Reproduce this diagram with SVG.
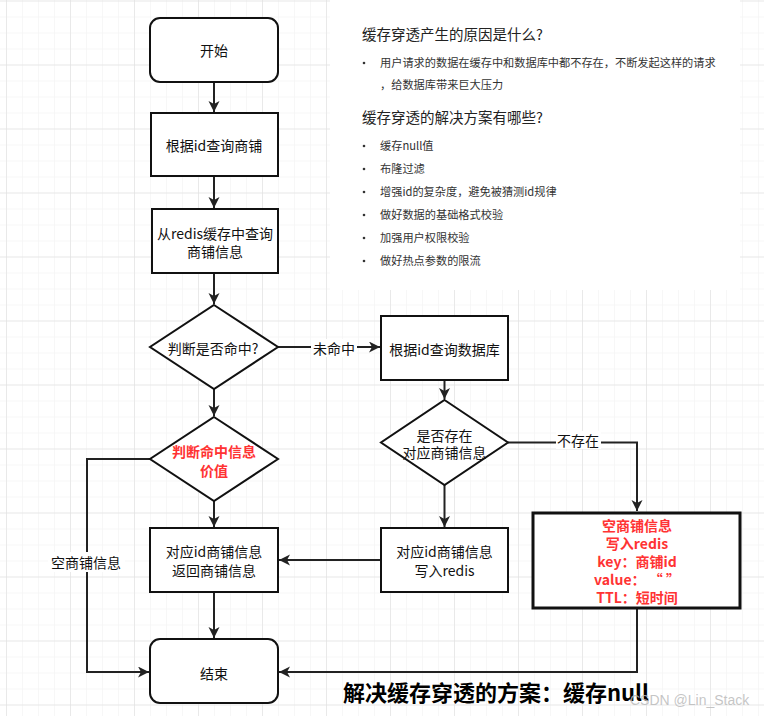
<svg xmlns="http://www.w3.org/2000/svg" width="764" height="716" viewBox="0 0 764 716">
<defs>
<pattern id="minor" x="6" y="0.5" width="16" height="16" patternUnits="userSpaceOnUse">
<path d="M0,0 H16 M0,0 V16" fill="none" stroke="#f0f0f0" stroke-width="1"/>
</pattern>
<pattern id="major" x="6" y="0.5" width="64" height="64" patternUnits="userSpaceOnUse">
<path d="M0,0 H64 M0,0 V64" fill="none" stroke="#dcdcdc" stroke-width="1"/>
</pattern>
<marker id="arr" markerUnits="userSpaceOnUse" markerWidth="12" markerHeight="12" refX="11" refY="5.5" orient="auto">
<path d="M0,0 L11,5.5 L0,11 L3,5.5 z" fill="#222"/>
</marker>
</defs>
<style>
.box{fill:#fff;stroke:#111;stroke-width:2}
.t{font-family:"Noto Sans CJK SC","Microsoft YaHei",sans-serif;font-size:14px;fill:#111;text-anchor:middle;dominant-baseline:central}
.r{fill:#ff3333;font-weight:bold}
.c{fill:none;stroke:#222;stroke-width:2}
.a{marker-end:url(#arr)}
.lb{fill:#fff}
.p{font-family:"Noto Sans CJK SC",sans-serif;fill:#222}
.h{font-size:14.5px}
.b{font-size:11.2px;fill:#333}
</style>
<rect width="764" height="716" fill="#fff"/>
<rect width="764" height="716" fill="url(#minor)"/>
<rect width="764" height="716" fill="url(#major)"/>

<g id="panel">
<rect x="330" y="0" width="410" height="290" fill="#fff"/>
<text class="p h" x="362" y="40">缓存穿透产生的原因是什么?</text>
<circle cx="364" cy="63" r="1.3" fill="#333"/>
<text class="p b" x="380" y="67">用户请求的数据在缓存中和数据库中都不存在，不断发起这样的请求</text>
<text class="p b" x="380" y="89">，给数据库带来巨大压力</text>
<text class="p h" x="362" y="123">缓存穿透的解决方案有哪些?</text>
<circle cx="364" cy="146" r="1.3" fill="#333"/>
<text class="p b" x="380" y="150">缓存null值</text>
<circle cx="364" cy="169" r="1.3" fill="#333"/>
<text class="p b" x="380" y="173">布隆过滤</text>
<circle cx="364" cy="192" r="1.3" fill="#333"/>
<text class="p b" x="380" y="196">增强id的复杂度，避免被猜测id规律</text>
<circle cx="364" cy="215" r="1.3" fill="#333"/>
<text class="p b" x="380" y="219">做好数据的基础格式校验</text>
<circle cx="364" cy="238" r="1.3" fill="#333"/>
<text class="p b" x="380" y="242">加强用户权限校验</text>
<circle cx="364" cy="261" r="1.3" fill="#333"/>
<text class="p b" x="380" y="265">做好热点参数的限流</text>
</g>

<g id="connectors">
<path class="c a" d="M214,82 V112"/>
<path class="c a" d="M214,176 V208"/>
<path class="c a" d="M214,273 V304"/>
<path class="c a" d="M214,389 V416"/>
<path class="c a" d="M214,501 V527"/>
<path class="c a" d="M214,592 V638"/>
<path class="c a" d="M278,347 H380"/>
<path class="c a" d="M444.5,380 V399"/>
<path class="c a" d="M444.5,485 V527"/>
<path class="c a" d="M381,560 H279"/>
<path class="c a" d="M508,442.5 H637 V511"/>
<path class="c a" d="M637,608 V672 H279"/>
<path class="c a" d="M150,459 H87 V672 H149"/>
<rect class="lb" x="311" y="339" width="46" height="18"/>
<text class="t" x="334" y="348">未命中</text>
<rect class="lb" x="556" y="431" width="45" height="18"/>
<text class="t" x="578" y="440">不存在</text>
<rect class="lb" x="48" y="552" width="77" height="20"/>
<text class="t" x="86" y="562">空商铺信息</text>
</g>

<g id="start">
<rect class="box" x="150" y="18" width="128" height="64" rx="10"/>
<text class="t" x="214" y="50">开始</text>
</g>
<g id="query-id">
<rect class="box" x="151" y="113" width="127" height="63"/>
<text class="t" x="214" y="145">根据id查询商铺</text>
</g>
<g id="query-redis">
<rect class="box" x="152" y="209" width="126" height="64"/>
<text class="t" x="215" y="233">从redis缓存中查询</text>
<text class="t" x="215" y="251">商铺信息</text>
</g>
<g id="hit">
<polygon class="box" points="214,305 278,347 214,389 150,347"/>
<text class="t" x="213" y="348">判断是否命中?</text>
</g>
<g id="value">
<polygon class="box" points="214,417 278,459 214,501 150,459"/>
<text class="t r" x="214" y="451">判断命中信息</text>
<text class="t r" x="214" y="470">价值</text>
</g>
<g id="return">
<rect class="box" x="150" y="528" width="128" height="64"/>
<text class="t" x="214" y="551">对应id商铺信息</text>
<text class="t" x="214" y="570">返回商铺信息</text>
</g>
<g id="end">
<rect class="box" x="150" y="639" width="128" height="64" rx="10"/>
<text class="t" x="214" y="673">结束</text>
</g>
<g id="query-db">
<rect class="box" x="381" y="316" width="127" height="64"/>
<text class="t" x="444.5" y="349">根据id查询数据库</text>
</g>
<g id="exists">
<polygon class="box" points="444.5,400 508,442.5 444.5,485 381,442.5"/>
<text class="t" x="444.5" y="435">是否存在</text>
<text class="t" x="444.5" y="452">对应商铺信息</text>
</g>
<g id="write-redis">
<rect class="box" x="381" y="528" width="127" height="64"/>
<text class="t" x="444.5" y="551">对应id商铺信息</text>
<text class="t" x="444.5" y="570">写入redis</text>
</g>
<g id="write-null">
<rect class="box" x="533" y="513" width="207" height="95" style="stroke-width:3"/>
<text class="t r" x="637" y="525">空商铺信息</text>
<text class="t r" x="637" y="543">写入redis</text>
<text class="t r" x="637" y="561">key：商铺id</text>
<text class="t r" x="637" y="579">value： “ ”</text>
<text class="t r" x="637" y="597">TTL：短时间</text>
</g>

<text x="343" y="701" font-family="'Noto Sans CJK SC',sans-serif" font-size="22" font-weight="bold" fill="#000">解决缓存穿透的方案：缓存null</text>
<text x="630" y="705" font-family="'Liberation Sans',sans-serif" font-size="14" fill="#bbb" fill-opacity="0.85">CSDN @Lin_Stack</text>
</svg>
